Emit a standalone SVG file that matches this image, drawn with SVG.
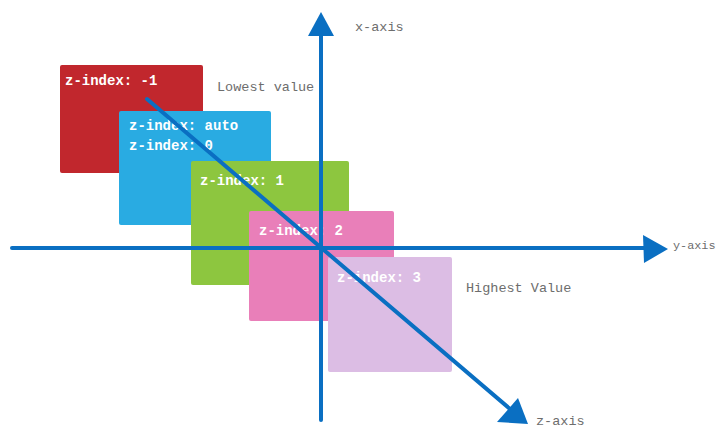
<svg xmlns="http://www.w3.org/2000/svg" width="717" height="430" viewBox="0 0 717 430">
<style>
.box{stroke:none}
.lbl{font-family:"Liberation Mono","DejaVu Sans Mono",monospace;font-size:14px;font-weight:bold;fill:#ffffff}
.note{font-family:"Liberation Mono","DejaVu Sans Mono",monospace;font-size:13.5px;fill:#6d6d6d}
.axis{stroke:#0a6fc2;stroke-width:4;fill:none;stroke-linecap:round}
.head{fill:#0a6fc2}
</style>
<rect width="717" height="430" fill="#ffffff"/>
<g id="box-neg1">
<rect class="box" x="60" y="65" width="143" height="108" rx="2" fill="#c1272d"/>
<text class="lbl" x="65" y="85">z-index: -1</text>
</g>
<g id="box-auto">
<rect class="box" x="119" y="111" width="152" height="114" rx="2" fill="#29abe2"/>
<text class="lbl" x="129" y="130">z-index: auto</text>
<text class="lbl" x="129" y="150">z-index: 0</text>
</g>
<g id="box-1">
<rect class="box" x="191" y="161" width="158" height="124" rx="2" fill="#8dc63f"/>
<text class="lbl" x="200" y="185">z-index: 1</text>
</g>
<g id="box-2">
<rect class="box" x="249" y="211" width="145" height="110" rx="2" fill="#e97fb9"/>
<text class="lbl" x="259" y="235">z-index: 2</text>
</g>
<g id="box-3">
<rect class="box" x="328" y="257" width="124" height="115" rx="2" fill="#dcbde4"/>
<text class="lbl" x="337" y="282">z-index: 3</text>
</g>
<g id="labels">
<text class="note" x="217" y="91">Lowest value</text>
<text class="note" x="466" y="292">Highest Value</text>
<text class="note" x="355" y="31">x-axis</text>
<text class="note" x="673" y="249" style="font-size:11.8px">y-axis</text>
<text class="note" x="536" y="425">z-axis</text>
</g>
<g id="connectors">
<line class="axis" x1="321" y1="420" x2="321" y2="32"/>
<polygon class="head" points="321,12 334,36 308,36"/>
<line class="axis" x1="12" y1="248" x2="648" y2="248"/>
<polygon class="head" points="668,249 643,235 644,263"/>
<line class="axis" x1="147" y1="99" x2="510" y2="409"/>
<polygon class="head" points="528,424 497,422 518,398"/>
</g>
</svg>
